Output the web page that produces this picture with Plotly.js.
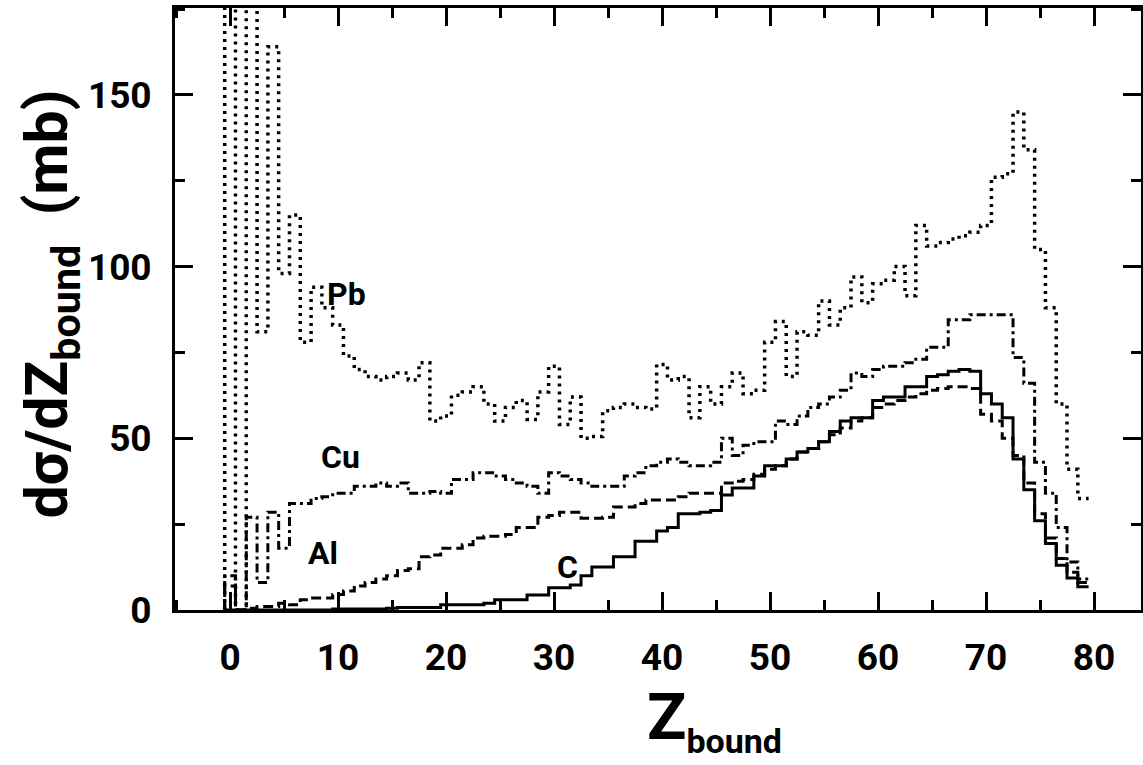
<!DOCTYPE html>
<html>
<head>
<meta charset="utf-8">
<script src="https://cdn.plot.ly/plotly-3.0.1.min.js"></script>
<style>html,body{margin:0;padding:0;background:#fff;}#chart{width:1143px;height:765px;}</style>
</head>
<body>
<div id="chart"></div>
<script>
// Bin centres (Zbound integer values)
const zBins = Array.from({length: 80}, (_, i) => i);

// dσ/dZbound (mb), one value per bin Z = 0..79
const pb = [200, 0, 190, 81, 164, 98, 115, 78, 94, 88,
            83, 74, 70, 68, 67, 68, 69, 67, 72, 55,
            56.5, 62.5, 63.5, 65, 60, 55, 59, 61, 55.5, 63.5,
            71, 54, 62, 50, 50.5, 58, 59, 60, 59, 58.5,
            71.5, 67, 68, 56, 65, 60, 65, 69, 63, 64,
            78, 84, 68, 81, 80, 90, 83, 88, 97, 89.5,
            95, 96, 100, 91.5, 112, 106, 107, 108, 109, 110,
            112, 126, 127, 145, 134, 105, 88, 60, 41, 32.5];

const cu = [10, 0, 27, 8, 28.5, 18, 31, 31, 32.5, 33,
            34, 34, 36, 36, 37, 36, 37, 34, 34, 34.5,
            34, 38, 38, 40, 40, 39, 38, 37, 36, 34,
            40, 39, 38, 37, 36, 36, 36, 39, 40, 42,
            43, 44, 43, 42, 42, 43, 50, 45, 48, 49,
            49, 55, 54, 56.5, 59, 60, 62, 64, 69, 68,
            70, 71, 71, 72, 73, 76.5, 76.5, 84.5, 84.5, 86,
            86, 86, 86, 73.5, 66, 43, 34, 24, 14, 9];

const al = [7, 0, 0.5, 1, 1, 2, 1.5, 3, 3.5, 3.5,
            4.5, 5.5, 7, 8, 9, 10, 11.5, 12, 15.5, 16,
            18, 18, 19, 21, 21.5, 21.5, 22, 24, 24, 27,
            27.5, 28.5, 28.5, 26.7, 26.7, 27, 30, 30, 31, 32,
            32, 32, 33, 34, 34, 34, 37, 37.5, 38, 39.5,
            41, 42, 44, 46, 47, 49, 51, 53, 55, 56,
            59, 60, 61, 62, 63, 64, 64.5, 65, 65, 64.5,
            57, 55, 50, 45, 37, 28, 21, 15, 11, 8];

const c  = [0, 0, 0, 0, 0, 0, 0, 0, 0, 0,
            0.3, 0.3, 0.3, 0.3, 0.3, 0.5, 0.7, 0.7, 0.7, 0.7,
            1.5, 1.5, 1.5, 1.5, 2, 3, 3, 3, 4.4, 4.4,
            6.5, 6.5, 7.3, 10, 12.5, 12.5, 15.5, 15.5, 20, 20,
            23, 24, 28, 28, 28.5, 29, 33.5, 35.5, 35.5, 39,
            42, 42, 44, 46, 47, 49, 52, 55, 56, 56,
            61, 62, 62, 65, 65, 68, 68.5, 69.5, 70, 69.5,
            63, 60, 56, 44, 35, 26, 19.4, 13, 9.3, 6.8];

const xTicks = [0, 10, 20, 30, 40, 50, 60, 70, 80];
const yTicks = [0, 50, 100, 150];
const labels = [
  {text: 'Pb', z: 10.8, v: 92},
  {text: 'Cu', z: 10.2, v: 44.5},
  {text: 'Al', z: 8.6, v: 16.5},
  {text: 'C',  z: 31.2, v: 12.5}
];
const xTitle = 'Z<sub><span style="font-size:34px">bound</span></sub>';
const yTitle = 'dσ/dZ<sub>bound</sub>\u00a0\u00a0(mb)';

// build histogram step outlines from bin centres
function steps(zs, vals) {
  const xs = [zs[0] - 0.5], ys = [0];
  for (let i = 0; i < zs.length; i++) { xs.push(zs[i] - 0.5); ys.push(vals[i]); }
  xs.push(zs[zs.length - 1] + 0.5); ys.push(vals[vals.length - 1]);
  return {xs, ys};
}

const FONT = 'Roboto, Liberation Sans Narrow, DejaVu Sans Condensed, sans-serif';

function trace(vals, name, dash, width) {
  const s = steps(zBins, vals);
  return {x: s.xs, y: s.ys, name: name, type: 'scatter', mode: 'lines',
          line: {shape: 'hv', color: '#000', width: width, dash: dash},
          hoverinfo: 'skip', cliponaxis: true};
}

const data = [
  trace(pb, 'Pb', '3px,5px', 3.5),
  trace(cu, 'Cu', '9px,4px,3px,4px', 3),
  trace(al, 'Al', '10px,5px', 3),
  trace(c, 'C', 'solid', 3)
];

const axisCommon = {
  showline: true, linecolor: '#000', linewidth: 3, mirror: 'ticks',
  ticks: 'inside', ticklen: 18, tickwidth: 3, tickcolor: '#000',
  showgrid: false, zeroline: false,
  tickfont: {family: FONT, size: 37, color: '#000', weight: 'bold'}
};

const layout = {
  width: 1143, height: 765,
  margin: {l: 175, r: 2, t: 8, b: 155},
  paper_bgcolor: '#fff', plot_bgcolor: '#fff',
  showlegend: false,
  xaxis: Object.assign({}, axisCommon, {
    range: [-5.1, 84.35], tickmode: 'array', tickvals: xTicks, ticktext: xTicks.map(String),
    ticklabelstandoff: 13,
    minor: {dtick: 5, tick0: 0, ticks: 'inside', ticklen: 10, tickwidth: 3, tickcolor: '#000', showgrid: false}
  }),
  yaxis: Object.assign({}, axisCommon, {
    range: [0, 175.3], tickmode: 'array', tickvals: yTicks, ticktext: yTicks.map(String),
    ticklabelstandoff: 13,
    minor: {dtick: 25, tick0: 0, ticks: 'inside', ticklen: 10, tickwidth: 3, tickcolor: '#000', showgrid: false}
  }),
  annotations: labels.map(l => ({
    x: l.z, y: l.v, xref: 'x', yref: 'y', text: l.text, showarrow: false,
    font: {family: FONT, size: 32, color: '#000', weight: 'bold'}
  })).concat([
    {x: 0.559, y: -0.252, xref: 'paper', yref: 'paper', xanchor: 'center', yanchor: 'bottom',
     text: xTitle, showarrow: false, borderpad: 0,
     font: {family: FONT, size: 65, color: '#000', weight: 'bold'}},
    {x: -0.129, y: 0.508, xref: 'paper', yref: 'paper', xanchor: 'center', yanchor: 'middle',
     textangle: -90, text: yTitle, showarrow: false,
     font: {family: FONT, size: 59, color: '#000', weight: 'bold'}}
  ])
};

Plotly.newPlot('chart', data, layout, {staticPlot: true, displayModeBar: false});
</script>
</body>
</html>
